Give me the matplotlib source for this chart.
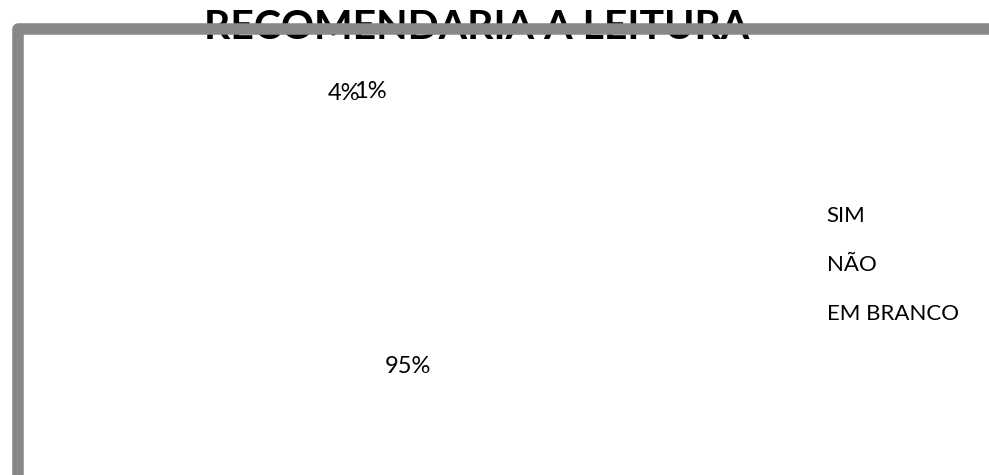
import matplotlib.pyplot as plt
from matplotlib.lines import Line2D
from matplotlib.transforms import IdentityTransform

# chart data
categories = ['SIM', 'NÃO', 'EM BRANCO']
values = [95, 4, 1]
title = 'RECOMENDARIA A LEITURA'

plt.rcParams['font.family'] = ['Lato', 'DejaVu Sans']

fig = plt.figure(figsize=(9.89, 4.75), dpi=100)

# pie area, wedges are white like the original export
R = 190  # radius in pixels
cx, cy = 386, 230
ax = fig.add_axes([(cx - R) / 989, (475 - cy - R) / 475, 2 * R / 989, 2 * R / 475])
wedges, texts, autotexts = ax.pie(values, startangle=90, counterclock=False,
                                  colors=['white'] * len(values),
                                  wedgeprops=dict(edgecolor='white'),
                                  autopct='%1.0f%%', pctdistance=0.73,
                                  textprops=dict(fontsize=17, color='black'))
ax.set_xlim(-1, 1)
ax.set_ylim(-1, 1)
ax.set_aspect('equal')

# spread the two small labels apart a little (like the best-fit placement)
for t, dx in zip(autotexts[1:], [-16, -11]):
    x, y = t.get_position()
    t.set_position((x + dx / R, y))

leg = fig.legend(wedges, categories, loc='center left',
                 bbox_to_anchor=(771 / 989, 1 - 265 / 475),
                 frameon=False, fontsize=16, labelspacing=1.3,
                 handlelength=0.8, handletextpad=0.8)

fig.text(476.5 / 989, 1 - 39 / 475, title, ha='center', va='baseline',
         fontsize=29.5, fontweight='bold', zorder=1)

# grey border (left + top edges) drawn over the title, in pixels
border = Line2D([17.5, 17.5, 1200], [-100, 446, 446],
                transform=IdentityTransform(), color='#888888',
                linewidth=8.3, solid_joinstyle='round', zorder=5)
fig.add_artist(border)

fig.savefig('out.png', dpi=100)
